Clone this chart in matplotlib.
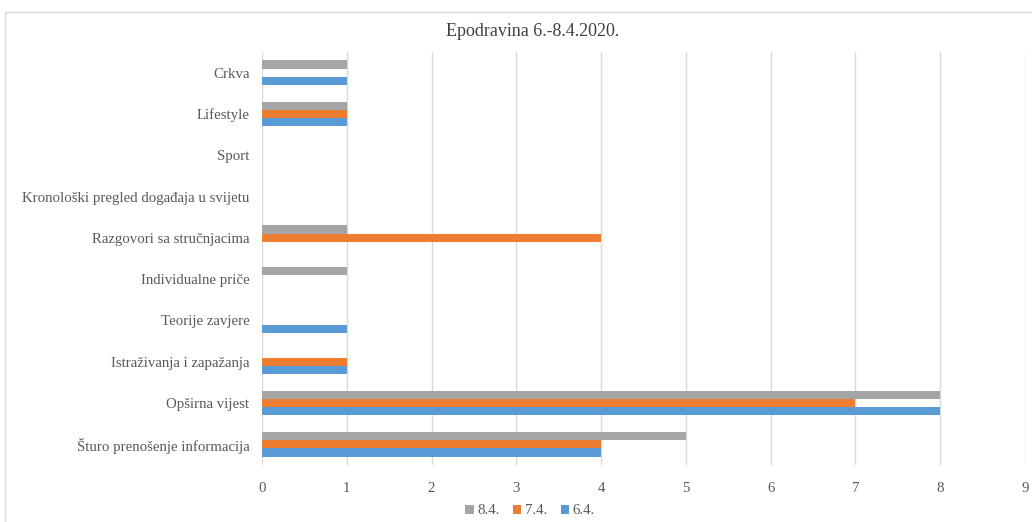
import matplotlib.pyplot as plt
import matplotlib.patches as mpatches
import numpy as np

plt.rcParams['font.family'] = ['Liberation Serif', 'DejaVu Serif']

categories = ["Šturo prenošenje informacija", "Opširna vijest", "Istraživanja i zapažanja",
              "Teorije zavjere", "Individualne priče", "Razgovori sa stručnjacima",
              "Kronološki pregled događaja u svijetu", "Sport", "Lifestyle", "Crkva"]
d64 = [4, 8, 1, 1, 0, 0, 0, 0, 1, 1]
d74 = [4, 7, 1, 0, 0, 4, 0, 0, 1, 0]
d84 = [5, 8, 0, 0, 1, 1, 0, 0, 1, 1]

fig = plt.figure(figsize=(10.32, 5.22), dpi=100)
ax = fig.add_axes([262/1032, 1 - 465/522, (1025 - 262)/1032, (465 - 52)/522])

# chart frame
fig.patches.append(mpatches.Rectangle((5/1032, -0.05), 1.1, 1 - 12/522 + 0.05,
                                      transform=fig.transFigure, fill=False,
                                      edgecolor='#d9d9d9', linewidth=1))

y = np.arange(len(categories))
h = 0.2
ax.barh(y - h, d64, height=h, color='#5b9bd5', label='6.4.')
ax.barh(y, d74, height=h, color='#ed7d31', label='7.4.')
ax.barh(y + h, d84, height=h, color='#a5a5a5', label='8.4.')

ax.set_xlim(0, 9)
ax.set_ylim(-0.5, 9.5)
ax.set_xticks(range(10))
ax.set_yticks(y)
ax.set_yticklabels(categories)
ax.tick_params(length=0, labelsize=10.7, colors='#595959')
ax.tick_params(axis='y', pad=9)
ax.tick_params(axis='x', pad=12)
ax.grid(axis='x', color='#d9d9d9', linewidth=1)
ax.set_axisbelow(True)
for s in ax.spines.values():
    s.set_visible(False)

fig.text(533/1032, 1 - 32/522, "Epodravina 6.-8.4.2020.", ha='center', va='center',
         fontsize=13, color='#404040')

handles, labels = ax.get_legend_handles_labels()
fig.legend(handles[::-1], labels[::-1], loc='center', bbox_to_anchor=(530/1032, 1 - 511/522),
           ncol=3, frameon=False, fontsize=10.7, handlelength=0.55, handleheight=0.6,
           handletextpad=0.25, columnspacing=0.9, labelcolor='#595959')

fig.savefig('out.png', dpi=100)
